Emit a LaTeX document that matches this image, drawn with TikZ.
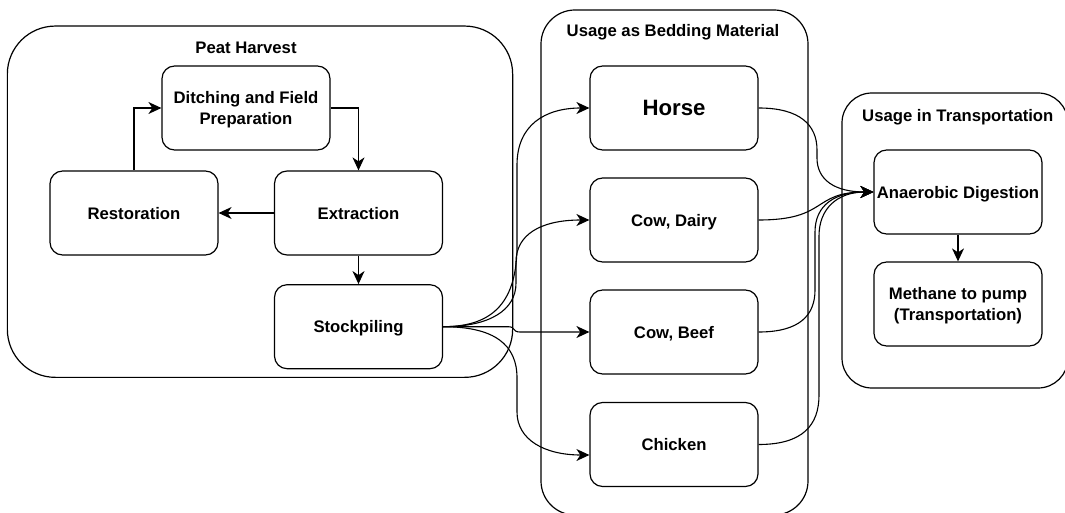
\documentclass[tikz,border=0pt]{standalone}
\usepackage{fontspec}
\setmainfont{Liberation Sans}
\usetikzlibrary{arrows.meta}
\begin{document}
\begin{tikzpicture}[x=1pt,y=-1pt,
  every node/.style={font=\fontsize{16.7}{21}\selectfont\bfseries, text depth=0pt},
  container/.style={draw, line width=1.2pt, inner sep=0pt},
  box/.style={draw, line width=1.2pt, fill=white, rounded corners=12.6pt, minimum width=168pt, minimum height=84pt, inner sep=2pt, align=center},
  title/.style={inner sep=0pt},
  arr/.style={line width=1.2pt, -{Stealth[length=13pt,width=12pt,inset=4pt]}},
  link/.style={line width=1.1pt, -{Stealth[length=13pt,width=12pt,inset=4pt]}}]
\path[use as bounding box] (0,0) rectangle (1065,513);
\clip (0,0) rectangle (1065,513);

% containers
\node[container, rounded corners=48pt, minimum width=505.3pt, minimum height=351.3pt] (peat) at (260,201.7) {};
\node[container, rounded corners=34pt, minimum width=267pt, minimum height=505pt] (bed) at (674.5,262.5) {};
\node[container, rounded corners=30pt, minimum width=226pt, minimum height=295pt] (trans) at (955,240.5) {};

\node[title] (tpeat) at (246,47.3) {Peat Harvest};
\node[title] (tbed) at (673,30.7) {Usage as Bedding Material};
\node[title] (ttrans) at (957.8,115) {Usage in Transportation};

% boxes
\node[box] (ditch) at (246,108) {Ditching and Field\\Preparation};
\node[box] (rest) at (134,213) {Restoration};
\node[box] (extr) at (358.5,213) {Extraction};
\node[box] (stock) at (358.5,326.7) {Stockpiling};

\node[box, font=\fontsize{22.2}{26}\selectfont\bfseries] (horse) at (674,108) {Horse};
\node[box] (dairy) at (674,220) {Cow, Dairy};
\node[box] (beef) at (674,332) {Cow, Beef};
\node[box] (chicken) at (674,444.5) {Chicken};

\node[box] (ad) at (958,192) {Anaerobic Digestion};
\node[box] (meth) at (958,304) {Methane to pump\\(Transportation)};

% peat harvest cycle
\draw[arr] (rest.north) |- (ditch.west);
\draw[arr] (ditch.east) -| (extr.north);
\draw[arr] (extr.west) -- (rest.east);
\draw[arr] (extr.south) -- (stock.north);
\draw[arr] (ad.south) -- (meth.north);

% stockpiling to bedding
\draw[link] (stock.east) .. controls (495,326.7) and (517,300) .. (517,245) -- (517,165) .. controls (517,125) and (545,108) .. (horse.west);
\draw[link] (stock.east) .. controls (490,326.7) and (516,310) .. (516,283) -- (516,262) .. controls (516,235) and (540,220) .. (dairy.west);
\draw[link] (stock.east) -- (508,326.7) .. controls (516,326.7) and (512,332) .. (520,332) -- (beef.west);
\draw[link] (stock.east) .. controls (495,326.7) and (517,345) .. (517,378) -- (517,412) .. controls (517,440) and (545,455) .. ([yshift=-10.5pt]chicken.west);

% bedding to anaerobic digestion
\draw[link] (horse.east) .. controls (800,108) and (817,125) .. (817,150) -- (817,158) .. controls (817,180) and (835,192) .. (ad.west);
\draw[link] (dairy.east) .. controls +(70,0) and +(-62,0) .. (ad.west);
\draw[link] (beef.east) .. controls (800,332) and (815,315) .. (815,290) -- (815,232) .. controls (815,205) and (835,192) .. (ad.west);
\draw[link] (chicken.east) .. controls (803,444.5) and (819,425) .. (819,395) -- (819,236) .. controls (819,208) and (838,192) .. (ad.west);
\end{tikzpicture}
\end{document}
